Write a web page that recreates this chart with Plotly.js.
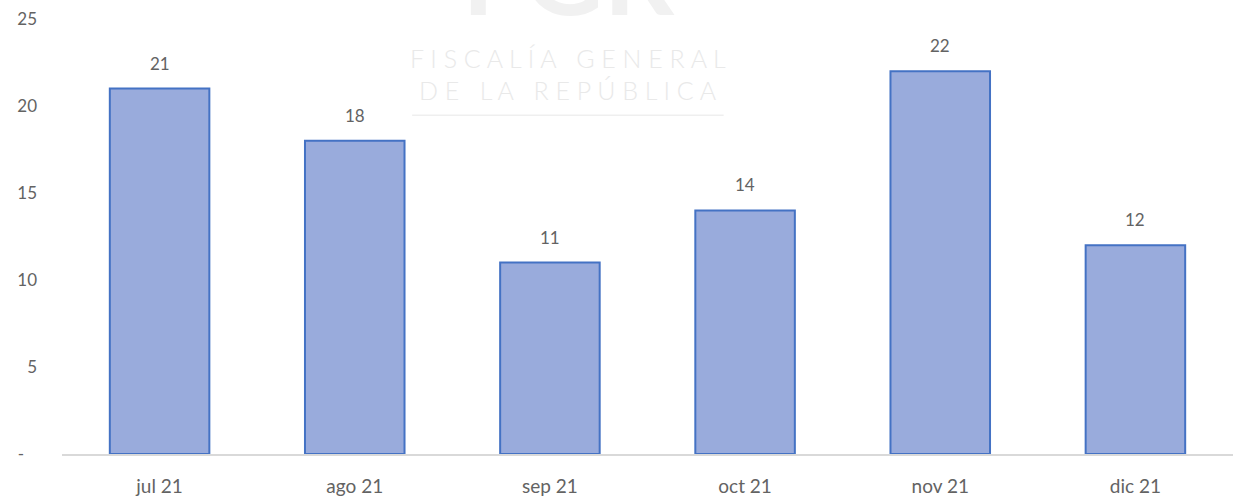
<!DOCTYPE html>
<html>
<head>
<meta charset="utf-8">
<script src="https://cdn.plot.ly/plotly-3.0.1.min.js"></script>
<style>html,body{margin:0;padding:0;background:#fff;}#chart{width:1233px;height:498px;}</style>
</head>
<body>
<div id="chart"></div>
<script>
const categories = ["jul 21", "ago 21", "sep 21", "oct 21", "nov 21", "dic 21"];
const values = [21, 18, 11, 14, 22, 12];
const yTickVals = [0, 5, 10, 15, 20, 25];
const yTickText = ["-\u00a0\u00a0\u00a0", "5", "10", "15", "20", "25"];

const FONT = "Lato, 'Open Sans', sans-serif";
const GREY = "#636363";

const trace = {
  type: "bar",
  x: categories,
  y: values,
  marker: { color: "#99abdc", line: { color: "#4472c4", width: 2 } },
  hoverinfo: "x+y"
};

const labelAnnotations = categories.map((c, i) => ({
  x: c, y: values[i], xref: "x", yref: "y",
  text: String(values[i]), showarrow: false,
  yanchor: "bottom", yshift: 13,
  font: { family: FONT, size: 17, color: GREY }
}));

const wmColor = "#e9e9e9";
const watermark = [
  { xref: "paper", yref: "paper", x: 0.432, y: 0.952, yanchor: "bottom", xanchor: "center",
    text: "FGR", showarrow: false, font: { family: FONT, size: 110, color: "#f1f1f1", weight: 700 } },
  { xref: "paper", yref: "paper", x: 0.432, y: 0.910, yanchor: "middle", xanchor: "center",
    text: "F I S C A L Í A&nbsp;&nbsp; G E N E R A L", showarrow: false,
    font: { family: FONT, size: 25, color: wmColor, weight: 300 } },
  { xref: "paper", yref: "paper", x: 0.432, y: 0.837, yanchor: "middle", xanchor: "center",
    text: "D E&nbsp;&nbsp; L A&nbsp;&nbsp; R E P Ú B L I C A", showarrow: false,
    font: { family: FONT, size: 25, color: wmColor, weight: 300 } }
];

const layout = {
  width: 1233, height: 498,
  margin: { l: 62, r: 0, t: 19, b: 44, pad: 0 },
  paper_bgcolor: "#ffffff", plot_bgcolor: "#ffffff",
  showlegend: false,
  bargap: 0.49,
  font: { family: FONT, size: 17, color: GREY },
  xaxis: {
    type: "category",
    showline: true, linecolor: "#d9d9d9", linewidth: 2,
    showgrid: false, zeroline: false, ticks: "",
    ticklabelstandoff: 14,
    tickfont: { family: FONT, size: 19, color: GREY }
  },
  yaxis: {
    range: [0, 25],
    tickvals: yTickVals, ticktext: yTickText,
    showgrid: false, zeroline: false, showline: false, ticks: "",
    ticklabelstandoff: 24,
    tickfont: { family: FONT, size: 17, color: GREY }
  },
  annotations: watermark.concat(labelAnnotations),
  shapes: [
    { type: "line", xref: "paper", yref: "paper", x0: 0.299, x1: 0.565, y0: 0.779, y1: 0.779,
      line: { color: "#efefef", width: 1.5 }, layer: "below" }
  ]
};

Plotly.newPlot("chart", [trace], layout, { displayModeBar: false, staticPlot: true });
</script>
</body>
</html>
